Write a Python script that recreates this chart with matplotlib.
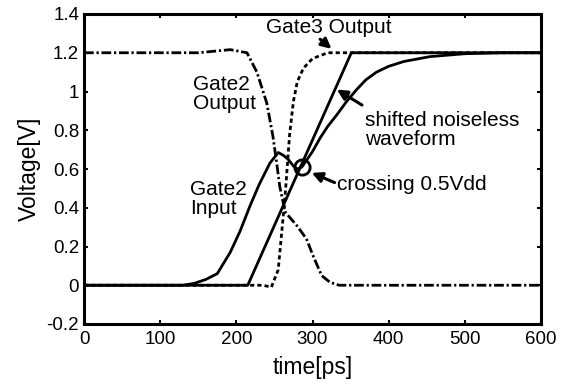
import matplotlib
matplotlib.use("Agg")
import matplotlib.pyplot as plt

plt.rcParams['font.family'] = ['Liberation Sans', 'DejaVu Sans']

# Gate2 input (noisy, solid)
t_in = [0, 130, 145, 160, 175, 192, 205, 218, 230, 244, 255, 262, 268, 275, 280, 286,
        300, 310, 320, 332, 345, 358, 370, 384, 400, 420, 454, 500, 550, 600]
v_in = [0, 0, 0.01, 0.03, 0.06, 0.17, 0.28, 0.41, 0.52, 0.63, 0.685, 0.67, 0.65, 0.615, 0.60, 0.61,
        0.69, 0.76, 0.82, 0.88, 0.95, 1.01, 1.06, 1.10, 1.13, 1.155, 1.18, 1.195, 1.2, 1.2]

# shifted noiseless waveform (solid ramp)
t_ramp = [0, 215, 351, 600]
v_ramp = [0, 0, 1.2, 1.2]

# Gate2 output (dash-dot)
t_g2 = [0, 150, 192, 214, 227, 240, 248, 253, 257, 264, 268, 279, 292, 301, 312, 323, 335, 600]
v_g2 = [1.2, 1.2, 1.216, 1.2, 1.10, 0.94, 0.77, 0.63, 0.51, 0.38, 0.36, 0.31, 0.24, 0.15, 0.05, 0.015, 0, 0]

# Gate3 output (dashed)
t_g3 = [0, 235, 246, 255, 260, 264, 270, 275, 280, 288, 300, 320, 600]
v_g3 = [0, 0, -0.01, 0.08, 0.29, 0.46, 0.78, 0.95, 1.05, 1.12, 1.17, 1.2, 1.2]

xticks = [0, 100, 200, 300, 400, 500, 600]
yticks = [-0.2, 0, 0.2, 0.4, 0.6, 0.8, 1, 1.2, 1.4]
ytick_labels = ["-0.2", "0", "0.2", "0.4", "0.6", "0.8", "1", "1.2", "1.4"]

fig = plt.figure(figsize=(5.66, 3.84), dpi=100)
ax = fig.add_axes([84/566, 1 - 324/384, 457/566, 310/384])

ax.plot(t_in, v_in, color='k', lw=2)
ax.plot(t_ramp, v_ramp, color='k', lw=2)
ax.plot(t_g2, v_g2, color='k', lw=2, dashes=(3.5, 1, 0.8, 1))
ax.plot(t_g3, v_g3, color='k', lw=2, dashes=(1.5, 1.1))

# crossing marker
ax.plot([286], [0.608], 'o', ms=11, mfc='none', mec='k', mew=2)

arrow = dict(arrowstyle='-|>,head_length=0.6,head_width=0.3', lw=2.2, color='k',
             shrinkA=0, shrinkB=0)
fs = 15
ax.text(239, 1.33, "Gate3 Output", fontsize=fs, ha='left', va='center')
ax.annotate('', xy=(325, 1.22), xytext=(310, 1.27), arrowprops=arrow)
ax.text(143, 0.985, "Gate2\nOutput", fontsize=fs, ha='left', va='center', linespacing=1.0)
ax.text(139, 0.443, "Gate2\nInput", fontsize=fs, ha='left', va='center', linespacing=1.0)
ax.text(369, 0.80, "shifted noiseless\nwaveform", fontsize=fs, ha='left', va='center', linespacing=1.0)
ax.annotate('', xy=(332, 1.01), xytext=(365, 0.93), arrowprops=arrow)
ax.text(332, 0.52, "crossing 0.5Vdd", fontsize=fs, ha='left', va='center')
ax.annotate('', xy=(299, 0.58), xytext=(329, 0.53), arrowprops=arrow)

ax.set_xlim(0, 600)
ax.set_ylim(-0.2, 1.4)
ax.set_xticks(xticks)
ax.set_yticks(yticks)
ax.set_yticklabels(ytick_labels)
ax.tick_params(direction='in', length=3, width=1.5, top=True, right=True, labelsize=13.5)
ax.tick_params(axis='x', pad=5)
for s in ax.spines.values():
    s.set_linewidth(2.2)

ax.set_xlabel("time[ps]", fontsize=16.5, labelpad=6)
ax.set_ylabel("Voltage[V]", fontsize=16.5, labelpad=4)

fig.savefig("out.png", dpi=100)
